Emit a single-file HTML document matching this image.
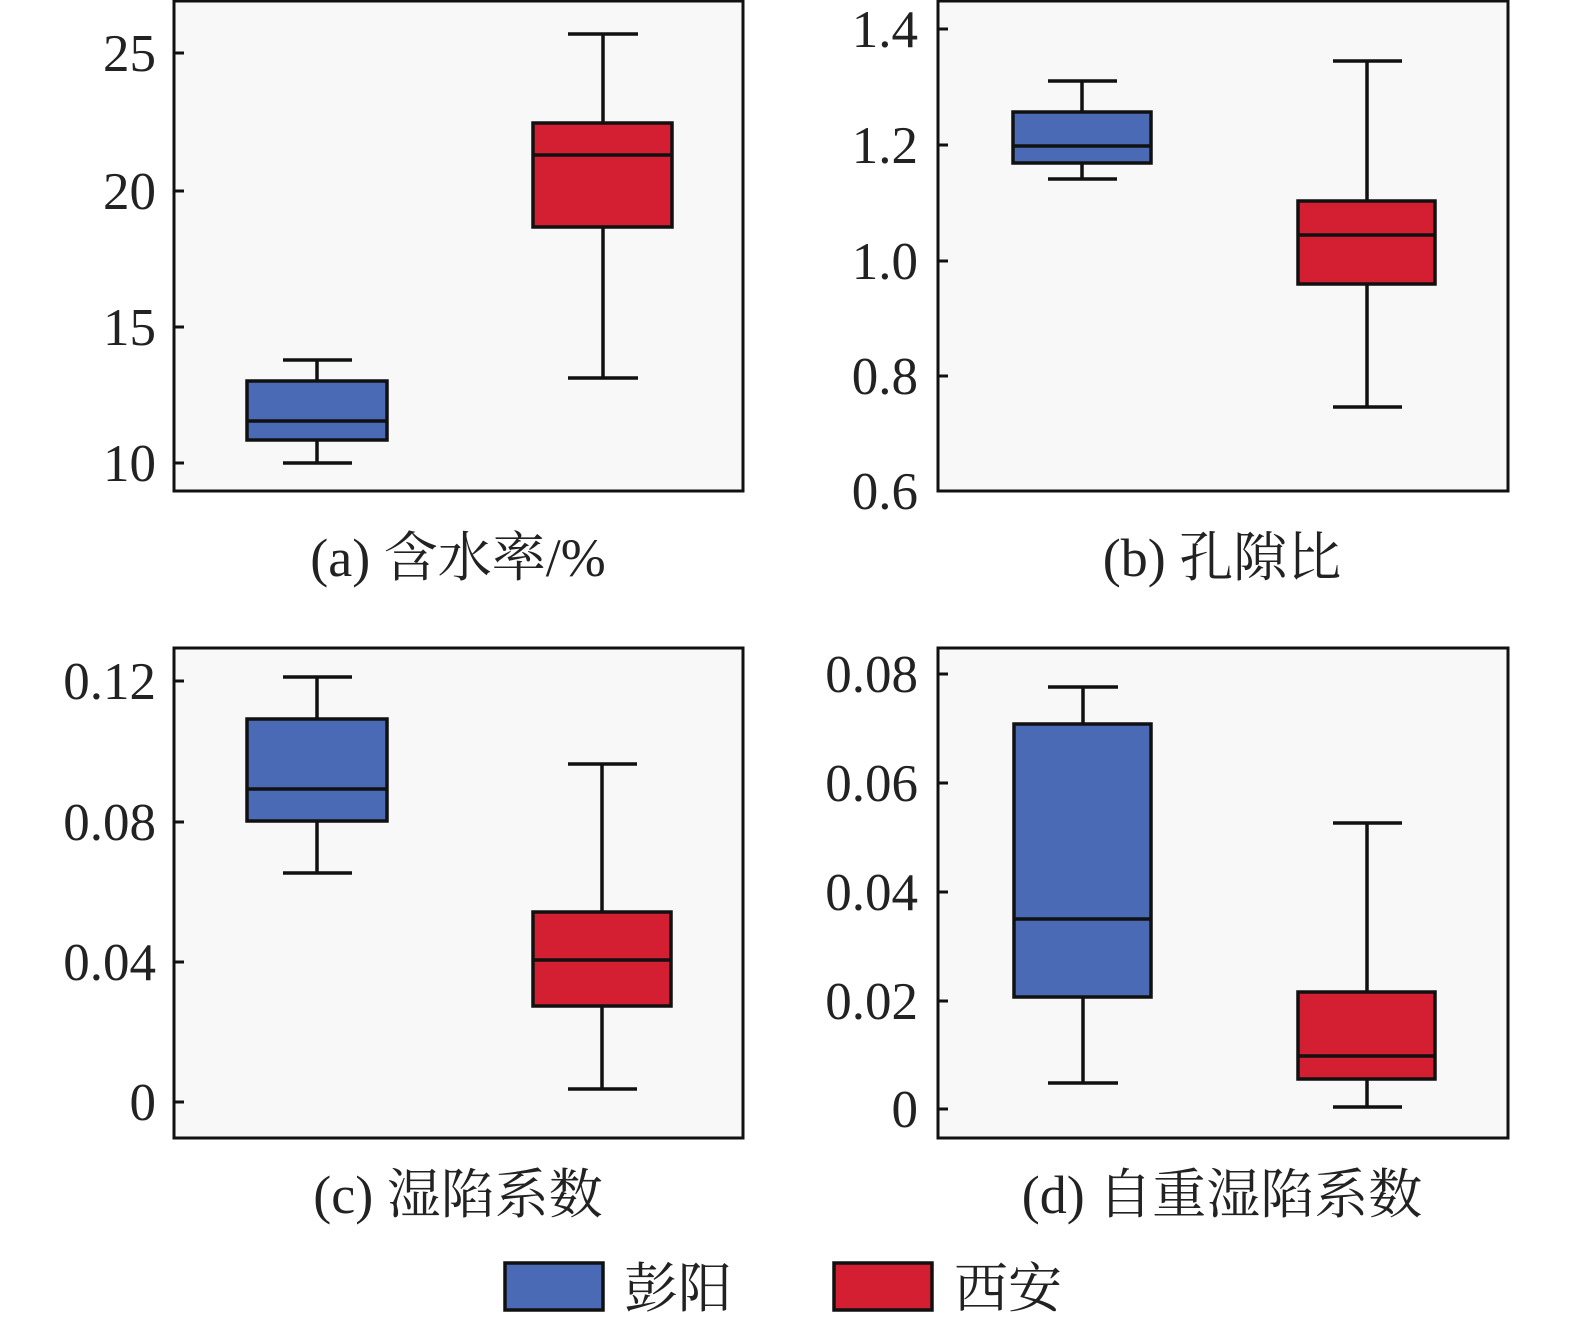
<!DOCTYPE html>
<html><head><meta charset="utf-8"><style>
html,body{margin:0;padding:0;background:#fff}
svg text{font-family:"Liberation Serif","Noto Serif CJK SC",serif;fill:#222}
</style></head><body>
<svg width="1575" height="1329" viewBox="0 0 1575 1329" xmlns="http://www.w3.org/2000/svg">
<g stroke="#111" stroke-width="3">
<rect x="174" y="1" width="569" height="490" fill="#f8f8f8"/>
<rect x="938" y="1" width="570" height="490" fill="#f8f8f8"/>
<rect x="174" y="648" width="569" height="490" fill="#f8f8f8"/>
<rect x="938" y="648" width="570" height="490" fill="#f8f8f8"/>
<path d="M174 53h10M174 191h10M174 327h10M174 463h10"/>
<path d="M938 29h10M938 145h10M938 261h10M938 376h10"/>
<path d="M174 681h10M174 822h10M174 962h10M174 1102h10"/>
<path d="M938 674h10M938 783h10M938 892h10M938 1001h10M938 1109h10"/>
</g>
<g font-size="53" text-anchor="end">
<text x="156" y="71">25</text><text x="156" y="209">20</text><text x="156" y="345">15</text><text x="156" y="481">10</text>
<text x="918" y="47">1.4</text><text x="918" y="163">1.2</text><text x="918" y="279">1.0</text><text x="918" y="394">0.8</text><text x="918" y="509">0.6</text>
<text x="156" y="699">0.12</text><text x="156" y="840">0.08</text><text x="156" y="980">0.04</text><text x="156" y="1120">0</text>
<text x="918" y="692">0.08</text><text x="918" y="801">0.06</text><text x="918" y="910">0.04</text><text x="918" y="1019">0.02</text><text x="918" y="1127">0</text>
</g>
<g stroke="#111" stroke-width="3.5">
<path d="M317 360V381M317 440V463M283 360h69M283 463h69"/>
<rect x="247" y="381" width="140" height="59" fill="#4a6ab6"/>
<path d="M247 421h140"/>
<path d="M603 34V123M603 227V378M568 34h70M568 378h70"/>
<rect x="533" y="123" width="139" height="104" fill="#d41f33"/>
<path d="M533 155h139"/>
<path d="M1082 81V112M1082 163V179M1048 81h69M1048 179h69"/>
<rect x="1013" y="112" width="138" height="51" fill="#4a6ab6"/>
<path d="M1013 146h138"/>
<path d="M1367 61V201M1367 284V407M1333 61h69M1333 407h69"/>
<rect x="1298" y="201" width="137" height="83" fill="#d41f33"/>
<path d="M1298 235h137"/>
<path d="M317 677V719M317 821V873M283 677h69M283 873h69"/>
<rect x="247" y="719" width="140" height="102" fill="#4a6ab6"/>
<path d="M247 789h140"/>
<path d="M602 764V912M602 1006V1089M568 764h69M568 1089h69"/>
<rect x="533" y="912" width="138" height="94" fill="#d41f33"/>
<path d="M533 960h138"/>
<path d="M1083 687V724M1083 997V1083M1048 687h70M1048 1083h70"/>
<rect x="1014" y="724" width="137" height="273" fill="#4a6ab6"/>
<path d="M1014 919h137"/>
<path d="M1367 823V992M1367 1079V1107M1333 823h69M1333 1107h69"/>
<rect x="1298" y="992" width="137" height="87" fill="#d41f33"/>
<path d="M1298 1056h137"/>
</g>
<g font-size="54" text-anchor="middle">
<text x="458" y="576">(a) 含水率/%</text>
<text x="1222" y="576">(b) 孔隙比</text>
<text x="458" y="1213">(c) 湿陷系数</text>
<text x="1222" y="1213">(d) 自重湿陷系数</text>
</g>
<rect x="505" y="1263" width="98" height="47" fill="#4a6ab6" stroke="#111" stroke-width="3.5"/>
<rect x="834" y="1263" width="98" height="47" fill="#d41f33" stroke="#111" stroke-width="3.5"/>
<g font-size="54"><text x="624" y="1307">彭阳</text><text x="954" y="1307">西安</text></g>
</svg>
</body></html>
